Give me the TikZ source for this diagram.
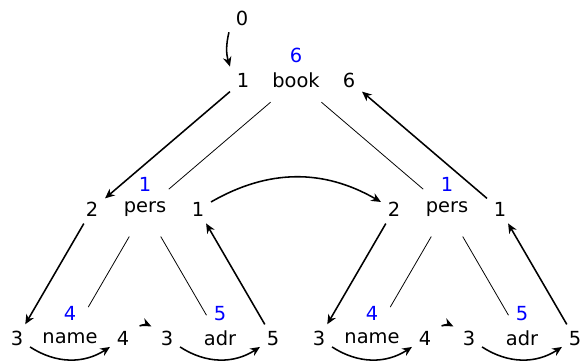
\documentclass[tikz,border=0pt]{standalone}
\usepackage{fontspec}
\setmainfont{DejaVu Sans}
\usetikzlibrary{arrows.meta}

\begin{document}
\begin{tikzpicture}[x=0.515pt,y=0.515pt,
		Tree/.style={circle},
		Pre/.style={text=blue},
		Edge/.style={thin},
		Arrow/.style={-{Stealth[length=5pt,width=4.4pt]},thick}]
		\useasboundingbox (0,0) rectangle (581,362);
		\pgfmathsetmacro{\dx}{53}
		\pgfmathsetmacro{\dy}{25}
		% tree nodes
		\node[Tree] (Book) at (296,281.5) {book};
		\node[Tree] (PersA) at (145,152.5) {pers};
		\node[Tree] (PersB) at (447,152.5) {pers};
		\node[Tree] (NameA) at (70,23.5) {name};
		\node[Tree] (AdrA) at (220,23.5) {adr};
		\node[Tree] (NameB) at (372,23.5) {name};
		\node[Tree] (AdrB) at (522,23.5) {adr};
		% numbers left, right and above
		\node (Start) at (242,344) {0};
		\node (BookL) at ([shift={(-\dx,0)}]Book.center) {1};
		\node (BookR) at ([shift={(\dx,0)}]Book.center) {6};
		\node[Pre] (BookT) at ([shift={(0,\dy)}]Book.center) {6};
		\node (PersAL) at ([shift={(-\dx,0)}]PersA.center) {2};
		\node (PersAR) at ([shift={(\dx,0)}]PersA.center) {1};
		\node[Pre] (PersAT) at ([shift={(0,\dy)}]PersA.center) {1};
		\node (PersBL) at ([shift={(-\dx,0)}]PersB.center) {2};
		\node (PersBR) at ([shift={(\dx,0)}]PersB.center) {1};
		\node[Pre] (PersBT) at ([shift={(0,\dy)}]PersB.center) {1};
		\node (NameAL) at ([shift={(-\dx,0)}]NameA.center) {3};
		\node (NameAR) at ([shift={(\dx,0)}]NameA.center) {4};
		\node[Pre] (NameAT) at ([shift={(0,\dy)}]NameA.center) {4};
		\node (AdrAL) at ([shift={(-\dx,0)}]AdrA.center) {3};
		\node (AdrAR) at ([shift={(\dx,0)}]AdrA.center) {5};
		\node[Pre] (AdrAT) at ([shift={(0,\dy)}]AdrA.center) {5};
		\node (NameBL) at ([shift={(-\dx,0)}]NameB.center) {3};
		\node (NameBR) at ([shift={(\dx,0)}]NameB.center) {4};
		\node[Pre] (NameBT) at ([shift={(0,\dy)}]NameB.center) {4};
		\node (AdrBL) at ([shift={(-\dx,0)}]AdrB.center) {3};
		\node (AdrBR) at ([shift={(\dx,0)}]AdrB.center) {5};
		\node[Pre] (AdrBT) at ([shift={(0,\dy)}]AdrB.center) {5};
		% tree edges
		\draw[Edge] (Book) -- (PersA);
		\draw[Edge] (Book) -- (PersB);
		\draw[Edge] (PersA) -- (NameA);
		\draw[Edge] (PersA) -- (AdrA);
		\draw[Edge] (PersB) -- (NameB);
		\draw[Edge] (PersB) -- (AdrB);
		% traversal
		\draw[Arrow] (Start.south west) to[bend right=15] (BookL.north west);
		\draw[Arrow] (BookL) -- (PersAL);
		\draw[Arrow] (PersAL) -- (NameAL);
		\draw[Arrow] (NameAL) to[bend right=33] (NameAR);
		\draw[Arrow,shorten <=2pt,shorten >=1.5pt] (NameAR.40) to[bend left=25] (AdrAL.140);
		\draw[Arrow] (AdrAL) to[bend right=33] (AdrAR);
		\draw[Arrow] (AdrAR) -- (PersAR);
		\draw[Arrow] (PersAR) to[bend left=30] (PersBL);
		\draw[Arrow] (PersBL) -- (NameBL);
		\draw[Arrow] (NameBL) to[bend right=33] (NameBR);
		\draw[Arrow,shorten <=2pt,shorten >=1.5pt] (NameBR.40) to[bend left=25] (AdrBL.140);
		\draw[Arrow] (AdrBL) to[bend right=33] (AdrBR);
		\draw[Arrow] (AdrBR) -- (PersBR);
		\draw[Arrow] (PersBR) -- (BookR);
	\end{tikzpicture}
\end{document}
